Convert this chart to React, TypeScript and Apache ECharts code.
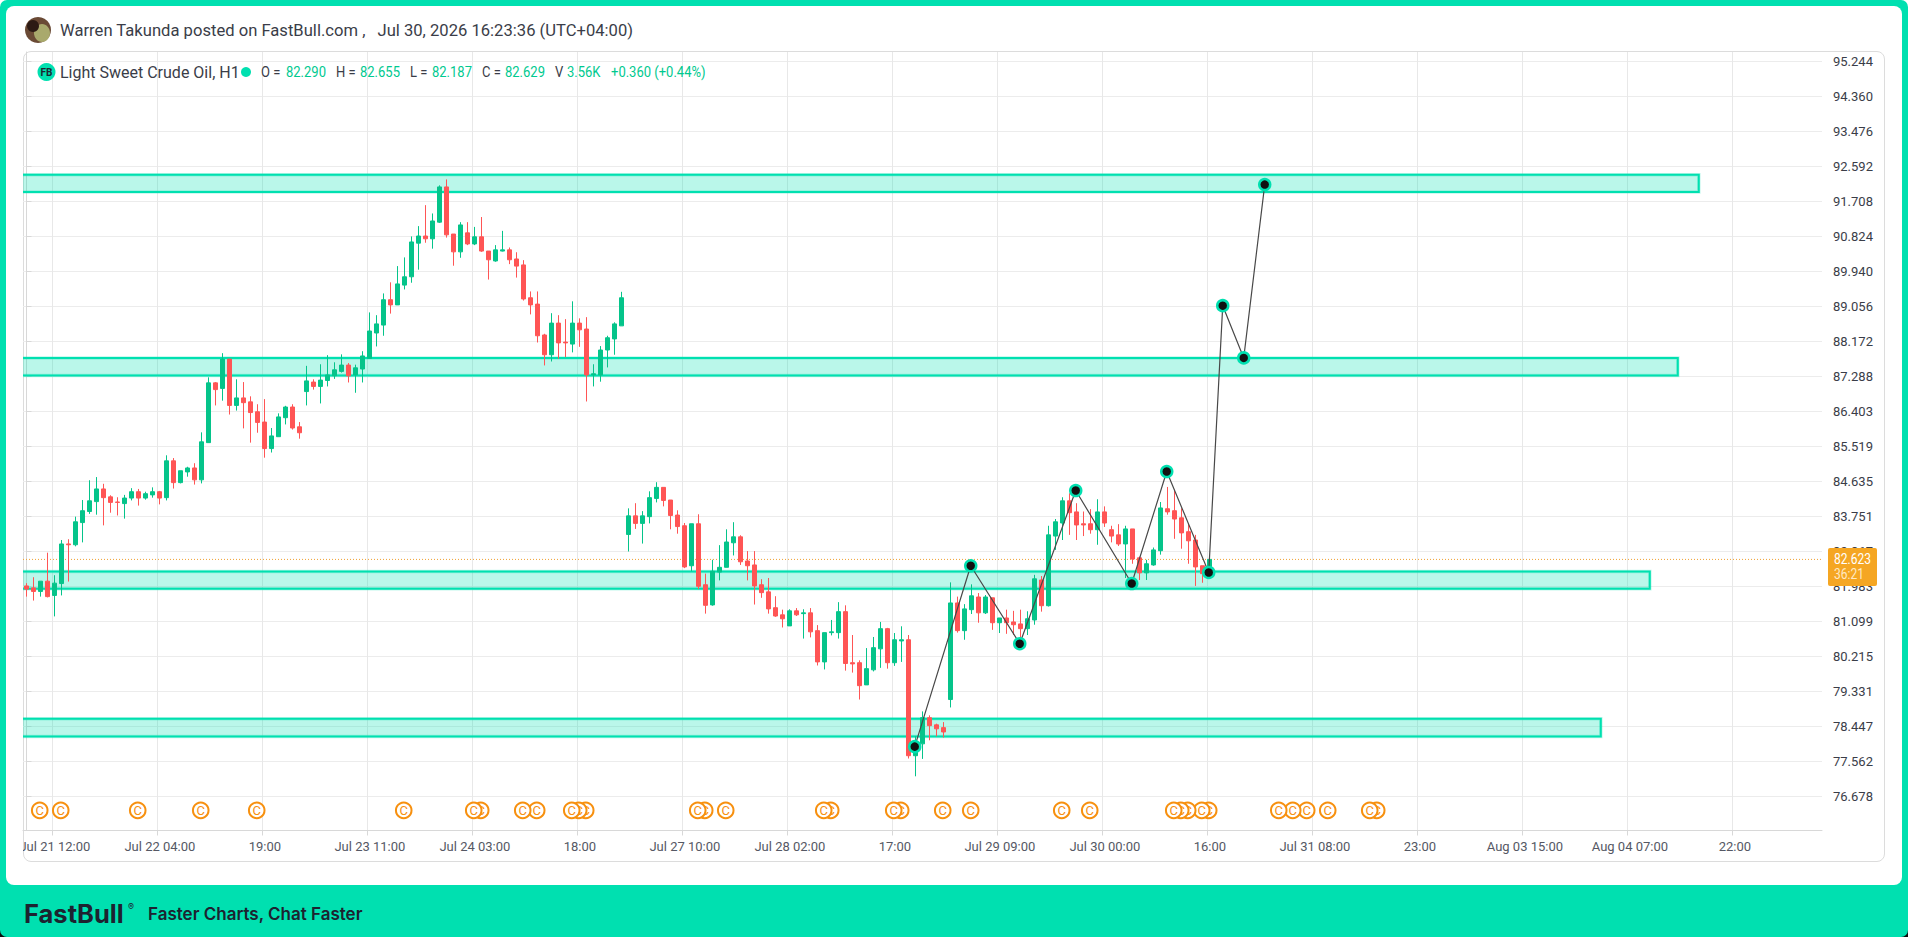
import React, { useEffect, useRef } from "react";
import * as echarts from "echarts";

const GREEN = "#05c48a";
const RED = "#ff5555";
const TEAL = "#00e0b0";
const ORANGE = "#f7900f";
const FONT = "Roboto, sans-serif";

// candles: [open, close, low, high]
const candles: number[][] = [
[81.99,81.91,81.72,82.06],[81.94,81.85,81.62,82.21],[81.85,82.11,81.72,82.11],[82.11,81.72,81.70,82.83],[81.75,82.06,81.22,82.26],
[82.05,83.05,81.75,83.15],[83.05,83.03,82.10,83.17],[83.03,83.61,82.99,83.74],[83.59,83.89,83.09,84.16],[83.87,84.14,83.81,84.66],
[84.12,84.44,83.79,84.74],[84.44,84.22,83.52,84.57],[84.24,84.10,83.84,84.28],[84.11,84.10,83.77,84.23],[84.07,84.21,83.69,84.29],
[84.21,84.37,84.15,84.46],[84.37,84.21,84.02,84.44],[84.21,84.32,84.17,84.37],[84.29,84.37,84.22,84.48],[84.37,84.21,84.05,84.39],
[84.22,85.15,84.15,85.29],[85.15,84.60,84.45,85.22],[84.60,84.90,84.58,84.90],[84.87,84.97,84.75,85.00],[84.97,84.67,84.55,85.09],
[84.67,85.63,84.58,85.87],[85.61,87.12,85.61,87.26],[87.12,86.95,86.55,87.14],[86.98,87.72,86.67,87.87],[87.72,86.55,86.32,87.72],
[86.55,86.74,86.42,87.21],[86.74,86.62,85.97,87.14],[86.64,86.37,85.61,86.78],[86.39,86.12,85.86,86.58],[86.13,85.46,85.23,86.71],
[85.46,85.78,85.36,85.98],[85.76,86.26,85.76,86.35],[86.24,86.51,86.07,86.54],[86.51,85.98,85.94,86.58],[86.01,85.86,85.71,86.13],
[86.90,87.17,86.55,87.55],[87.14,87.03,86.95,87.21],[87.03,87.19,86.60,87.59],[87.18,87.32,87.03,87.82],[87.30,87.45,87.22,87.64],
[87.41,87.57,87.38,87.84],[87.57,87.30,87.13,87.62],[87.32,87.50,86.87,87.58],[87.47,87.80,87.13,87.92],[87.74,88.43,87.74,88.90],
[88.38,88.61,88.04,88.83],[88.58,89.22,88.31,89.38],[89.22,89.09,88.87,89.66],[89.09,89.62,89.09,90.07],[89.59,89.80,89.48,90.29],
[89.80,90.68,89.65,90.82],[90.65,90.83,89.98,91.08],[90.83,90.76,90.66,91.61],[90.76,91.21,90.51,91.40],[91.18,92.07,91.16,92.11],
[92.07,90.86,90.79,92.26],[90.88,90.43,90.08,90.88],[90.43,91.11,90.28,91.18],[90.91,90.63,90.60,91.18],[90.63,90.81,90.60,91.06],
[90.81,90.45,90.43,91.31],[90.45,90.23,89.73,90.45],[90.20,90.48,90.18,90.60],[90.45,90.48,90.44,90.96],[90.48,90.23,90.12,90.54],
[90.25,90.07,89.78,90.42],[90.10,89.24,89.20,90.22],[89.27,89.09,88.85,89.43],[89.11,88.31,88.14,89.43],[88.33,87.83,87.56,88.36],
[87.83,88.63,87.66,88.88],[88.63,88.13,87.73,88.83],[88.15,88.13,87.77,88.73],[88.10,88.63,87.89,89.18],[88.63,88.46,88.03,88.75],
[88.48,87.32,86.65,88.78],[87.32,87.35,87.03,87.59],[87.32,87.95,87.15,88.05],[87.95,88.26,87.51,88.31],[88.23,88.61,87.83,88.65],
[88.56,89.27,88.56,89.42],[83.29,83.76,82.86,83.95],[83.76,83.57,83.43,84.08],[83.57,83.76,83.06,83.88],[83.74,84.22,83.57,84.38],
[84.20,84.48,84.10,84.61],[84.48,84.15,84.00,84.48],[84.16,83.77,83.42,84.16],[83.78,83.49,83.31,83.90],[83.51,82.47,82.44,83.58],
[82.50,83.56,82.36,83.56],[83.56,81.98,81.91,83.80],[82.02,81.50,81.29,82.30],[81.51,82.36,81.49,82.65],[82.34,82.46,82.13,83.02],
[82.46,83.10,82.46,83.42],[83.08,83.23,82.76,83.60],[83.23,82.60,82.52,83.27],[82.62,82.50,82.13,82.87],[82.52,81.99,81.52,82.87],
[82.02,81.82,81.69,82.16],[81.84,81.41,81.29,82.19],[81.44,81.23,81.21,81.73],[81.26,81.16,80.94,81.39],[80.98,81.36,80.98,81.40],
[81.36,81.26,81.23,81.43],[81.29,81.31,80.66,81.40],[81.31,80.83,80.69,81.43],[80.86,80.07,79.98,81.00],[80.07,80.81,79.88,80.81],
[80.81,80.83,80.74,81.13],[80.81,81.34,80.66,81.58],[81.34,80.03,79.85,81.50],[80.05,80.02,79.80,80.75],[80.05,79.47,79.12,80.11],
[79.49,79.90,79.49,80.42],[79.87,80.43,79.83,80.70],[80.40,80.91,79.92,81.08],[80.91,80.05,79.90,80.93],[80.05,80.63,79.97,80.80],
[80.60,80.63,80.07,80.97],[80.63,77.70,77.63,80.75],[77.70,78.06,77.18,78.19],[78.00,78.66,77.62,78.82],[78.66,78.46,78.09,78.72],
[78.48,78.38,78.19,78.51],[78.41,78.30,78.16,78.55],[79.12,81.56,78.92,82.08],[81.56,80.86,80.81,81.72],[80.86,81.41,80.63,81.53],
[81.39,81.74,81.28,82.03],[81.71,81.31,81.06,81.81],[81.31,81.71,81.28,81.76],[81.69,81.06,80.88,81.69],[81.06,81.18,80.80,81.18],
[81.18,81.06,80.78,81.39],[81.08,81.01,80.75,81.36],[81.03,80.91,80.63,81.39],[80.91,81.16,80.75,81.35],[81.13,82.17,81.01,82.27],
[82.14,81.49,81.34,82.24],[81.49,83.28,81.47,83.51],[83.25,83.61,82.90,83.68],[83.58,84.14,83.15,84.23],[84.14,83.84,83.28,84.33],
[83.86,83.53,83.15,84.08],[83.56,83.53,83.25,83.87],[83.56,83.41,83.31,83.93],[83.41,83.86,83.03,84.18],[83.86,83.58,83.48,84.00],
[83.41,83.25,83.09,83.51],[83.28,83.05,83.00,83.55],[83.05,83.43,82.19,83.51],[83.43,82.67,82.55,83.43],[82.70,82.32,82.14,82.73],
[82.32,82.55,82.14,82.65],[82.52,82.90,82.50,82.96],[82.88,83.96,82.78,84.11],[83.94,83.86,83.79,84.49],[83.89,83.68,83.18,84.42],
[83.71,83.33,82.93,83.95],[83.36,83.13,82.55,83.56],[83.15,82.47,81.99,83.28],[82.50,82.30,82.07,82.50],[82.29,82.66,82.187,82.70],
];

const BAR_SLOTS = 257;
const slots = Array.from({ length: BAR_SLOTS }, (_, i) => String(i));

const priceTicks = [95.244,94.36,93.476,92.592,91.708,90.824,89.94,89.056,88.172,87.288,86.403,85.519,84.635,83.751,82.867,81.983,81.099,80.215,79.331,78.447,77.562,76.678];
const timeTickBars = [3.7,18.7,33.7,48.7,63.7,78.7,93.7,108.7,123.7,138.7,153.7,168.7,183.7,198.7,213.7,228.7,243.7];
const timeTickLabels = ["Jul 21 12:00","Jul 22 04:00","19:00","Jul 23 11:00","Jul 24 03:00","18:00","Jul 27 10:00","Jul 28 02:00","17:00","Jul 29 09:00","Jul 30 00:00","16:00","Jul 31 08:00","23:00","Aug 03 15:00","Aug 04 07:00","22:00"];

const zoneTops = [92.38, 87.75, 82.353, 78.633];
const zoneBottoms = [91.943, 87.303, 81.916, 78.186];
const zoneEnds = [238.9, 235.9, 231.9, 224.9];
const zoneStart = -3;

const waveBars = [126.89,134.89,141.89,149.89,157.89,162.89,168.89,170.89,173.89,176.89];
const wavePrices = [77.93,82.50,80.53,84.40,82.05,84.88,82.33,89.07,87.75,92.13];

const eventBars = [2,5,16,25,33,54,64,65,71,73,78,79,80,96,97,100,114,115,124,125,131,135,148,152,164,165,166,168,169,179,181,183,186,192,193];
const eventPrice = 76.32;
const lastLinePrice = 82.66;

const AXIS_MIN = 75.811;
const AXIS_MAX = 95.479;

function App() {
  const ref = useRef<HTMLDivElement>(null);
  useEffect(() => {
    document.body.style.margin = "0";
    const chart = echarts.init(ref.current!, null, { renderer: "svg" });
    const txt = (x: number, y: number, text: string, fill: string, fontSize = 14, extra: any = {}, scaleX = 1) => ({
      type: "text", x, y, z: 20, scaleX,
      style: { text, fill, fontSize, fontFamily: FONT, verticalAlign: "middle", ...extra },
    });
    const dark = "#3a3d48";
    const green = "#00c98f";
    const N = 0.93;
    chart.setOption({
      animation: false,
      grid: { left: 23, right: 86, top: 52, bottom: 106.5, containLabel: false },
      xAxis: [
        { type: "category", data: slots, boundaryGap: true, show: false, gridIndex: 0 },
        {
          type: "value", min: -0.5, max: 256.5, position: "bottom", gridIndex: 0,
          axisLine: { show: true, lineStyle: { color: "#d8d8d8", width: 1 } },
          axisTick: { show: true, length: 5, lineStyle: { color: "#d8d8d8" }, customValues: timeTickBars },
          splitLine: { show: true, lineStyle: { color: "#e8e8e8", width: 1 } },
          axisLabel: {
            customValues: timeTickBars,
            color: "#555864", fontSize: 13, fontFamily: FONT, margin: 9, padding: [0, 0, 0, 5],
            formatter: (v: number) => timeTickLabels[timeTickBars.findIndex((t) => Math.abs(t - v) < 0.01)] ?? "",
          },
        },
      ],
      yAxis: {
        type: "value", position: "right", min: AXIS_MIN, max: AXIS_MAX, scale: true,
        axisLine: { show: true, lineStyle: { color: "#d8d8d8", width: 1 } },
        axisTick: { show: true, length: 5, lineStyle: { color: "#d8d8d8" }, customValues: priceTicks },
        splitLine: { show: true, lineStyle: { color: "#ececec", width: 1 } },
        axisLabel: {
          customValues: priceTicks, color: "#3a3d48", fontSize: 13, fontFamily: FONT, margin: 11,
          formatter: (v: number) => v.toFixed(3),
        },
      },
      series: [
        {
          type: "custom", xAxisIndex: 1, yAxisIndex: 0, z: 2, clip: true,
          data: zoneTops.map((t, i) => [zoneStart, t, zoneEnds[i], zoneBottoms[i]]),
          encode: { x: [0, 2], y: [1, 3] },
          renderItem: (_: any, api: any) => {
            const a = api.coord([api.value(0), api.value(1)]);
            const b = api.coord([api.value(2), api.value(3)]);
            const shape = { x: a[0], y: a[1], width: b[0] - a[0], height: b[1] - a[1] };
            return {
              type: "group",
              children: [
                { type: "rect", shape, style: { fill: "none", stroke: "rgba(0,224,176,0.25)", lineWidth: 3.5 } },
                { type: "rect", shape, style: { fill: "rgba(0,224,176,0.27)", stroke: TEAL, lineWidth: 2 } },
              ],
            };
          },
        },
        {
          type: "candlestick", xAxisIndex: 0, yAxisIndex: 0, z: 3, barWidth: 5, data: candles,
          itemStyle: { color: GREEN, color0: RED, borderColor: GREEN, borderColor0: RED, borderWidth: 1 },
        },
        {
          type: "line", xAxisIndex: 1, yAxisIndex: 0, z: 3, symbol: "none", silent: true,
          data: [[-0.5, lastLinePrice], [256.5, lastLinePrice]],
          lineStyle: { color: "#f0a030", width: 1, type: [1, 2] },
        },
        {
          type: "line", xAxisIndex: 1, yAxisIndex: 0, z: 4, symbol: "circle", symbolSize: 11, silent: true,
          data: waveBars.map((b, i) => [b, wavePrices[i]]),
          lineStyle: { color: "#484848", width: 1.2 },
          itemStyle: { color: "#111", borderColor: TEAL, borderWidth: 2.5 },
        },
        {
          type: "custom", xAxisIndex: 1, yAxisIndex: 0, z: 5,
          data: eventBars.map((b) => [b - 0.11, eventPrice]),
          encode: { x: 0, y: 1 },
          renderItem: (params: any, api: any) => {
            const p = api.coord([api.value(0), api.value(1)]);
            const base = (eventBars.length - params.dataIndex) * 2;
            return {
              type: "group",
              children: [
                { type: "circle", shape: { cx: p[0], cy: p[1], r: 7.8 }, z2: base, style: { fill: "#fff", stroke: ORANGE, lineWidth: 2 } },
                {
                  type: "text", x: p[0], y: p[1], z2: base + 1,
                  style: { text: "C", fill: ORANGE, fontSize: 13, fontFamily: FONT, align: "center", verticalAlign: "middle" },
                },
              ],
            };
          },
        },
      ],
      graphic: [
        { type: "rect", z: 19, shape: { x: 16, y: 835, width: 7, height: 22 }, style: { fill: "#fff" } },
        { type: "circle", z: 20, shape: { cx: 38, cy: 30, r: 13 }, style: { fill: "#6a4a35" } },
        { type: "ellipse", z: 21, shape: { cx: 42, cy: 33, rx: 8, ry: 9 }, style: { fill: "#a9a96c" } },
        { type: "circle", z: 21, shape: { cx: 33, cy: 26, r: 6 }, style: { fill: "#2c1a14" } },
        txt(60, 30, "Warren Takunda posted on FastBull.com ,", dark, 17, {}, 0.977),
        txt(377.5, 30, "Jul 30, 2026 16:23:36 (UTC+04:00)", dark, 17, {}, 0.977),
        { type: "circle", z: 20, shape: { cx: 46.5, cy: 72, r: 9 }, style: { fill: TEAL } },
        txt(46.5, 72.5, "FB", "#1d2330", 10, { align: "center", fontWeight: "bold" }),
        txt(60, 72, "Light Sweet Crude Oil, H1", dark, 16),
        { type: "circle", z: 20, shape: { cx: 246, cy: 72, r: 5 }, style: { fill: TEAL } },
        txt(261, 72, "O =", dark, 14, {}, N), txt(286, 72, "82.290", green, 14, {}, N),
        txt(336, 72, "H =", dark, 14, {}, N), txt(360, 72, "82.655", green, 14, {}, N),
        txt(410, 72, "L =", dark, 14, {}, N), txt(432, 72, "82.187", green, 14, {}, N),
        txt(482, 72, "C =", dark, 14, {}, N), txt(505, 72, "82.629", green, 14, {}, N),
        txt(555, 72, "V", dark, 14, {}, N), txt(567, 72, "3.56K", green, 14, {}, N),
        txt(611, 72, "+0.360 (+0.44%)", green, 14, {}, N),
        { type: "rect", z: 30, shape: { x: 1828, y: 548, width: 49, height: 38, r: 2 }, style: { fill: "#f5a623" } },
        { ...txt(1834, 559, "82.623", "#fff", 14, {}, 0.86), z: 31 },
        { ...txt(1834, 574, "36:21", "#ffe9c4", 14, {}, 0.86), z: 31 },
        txt(24, 913, "FastBull", "#1d2330", 25.5, { fontFamily: "Inter", fontWeight: 700 }),
        txt(128, 906, "®", "#1d2330", 9, { fontFamily: "Inter" }),
        txt(148, 914, "Faster Charts, Chat Faster", "#1d2330", 17, { fontFamily: "Inter", fontWeight: 600 }),
      ],
    });
    return () => chart.dispose();
  }, []);
  return (
    <div style={{ position: "fixed", left: 0, top: 0, width: 1908, height: 937, background: "linear-gradient(#fff 50%, #0c0c0c 50%)", overflow: "hidden" }}>
      <div style={{ position: "absolute", inset: 0, background: TEAL, borderRadius: 7 }} />
      <div style={{ position: "absolute", left: 6, top: 6, width: 1896, height: 879, background: "#fff", borderRadius: 8 }} />
      <div style={{ position: "absolute", left: 23, top: 51, width: 1860, height: 809, border: "1px solid #dcdcdc", borderRadius: 8, boxSizing: "content-box" }} />
      <div ref={ref} style={{ position: "absolute", left: 0, top: 0, width: 1908, height: 937 }} />
    </div>
  );
}

export default App;
